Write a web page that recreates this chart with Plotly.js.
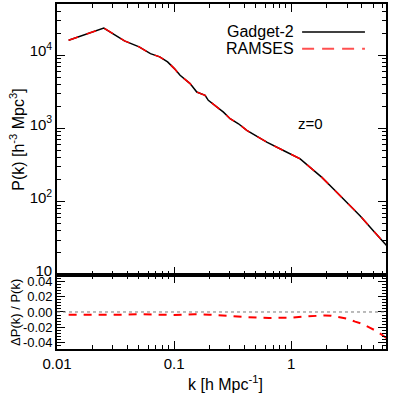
<!DOCTYPE html>
<html>
<head>
<meta charset="utf-8">
<script src="https://cdn.plot.ly/plotly-3.0.1.min.js"></script>
<style>
  html, body { margin: 0; padding: 0; background: #fff; }
  #chart { width: 393px; height: 393px; }
</style>
</head>
<body>
<div id="chart"></div>
<script>
// power spectrum
var kVals = [0.01257, 0.0251, 0.0377, 0.0503, 0.0628, 0.0754, 0.088, 0.1006, 0.1125, 0.137,
             0.1563, 0.1667, 0.184, 0.196, 0.21, 0.232, 0.264, 0.301, 0.355, 0.418,
             0.492, 0.619, 0.859, 1.194, 1.503, 1.83, 2.3, 2.99, 3.89, 5.05, 6.58];
var pGadget = [16000, 23500, 15700, 13000, 10500, 9500, 8100, 6560, 5320, 4090,
               3140, 2985, 2830, 2420, 2220, 1960, 1670, 1360, 1160, 940,
               800, 650, 500, 385, 281, 215, 149, 98, 64, 40, 25];
var pRamses = [16000, 23500, 15700, 13000, 10500, 9500, 8100, 6560, 5320, 4090,
               3140, 2985, 2830, 2420, 2220, 1960, 1670, 1360, 1160, 940,
               800, 650, 500, 385, 281, 215, 149, 98, 64, 40, 25];

// relative difference (lower panel)
var kRatio = [0.01257, 0.0251, 0.0377, 0.0503, 0.0628, 0.0754, 0.1, 0.126, 0.15, 0.2,
              0.25, 0.3, 0.4, 0.5, 0.65, 0.85, 1.0, 1.3, 1.6, 1.95,
              2.2, 2.52, 3.07, 3.52, 4.05, 4.73, 5.43, 6.24, 6.58];
var dRatio = [-0.0035, -0.004, -0.0035, -0.003, -0.0035, -0.003, -0.004, -0.0035, -0.003, -0.0035,
              -0.004, -0.0052, -0.0066, -0.0075, -0.0079, -0.0075, -0.0075, -0.006, -0.005, -0.0045,
              -0.005, -0.0066, -0.0092, -0.0127, -0.0157, -0.021, -0.0258, -0.0324, -0.035];

var xTickVals = [0.01, 0.1, 1];
var xTickText = ['0.01', '0.1', '1'];
var yTickVals = [10, 100, 1000, 10000];
var yTickText = ['10', '10<sup>2</sup>', '10<sup>3</sup>', '10<sup>4</sup>'];

function minorLog(lo, hi) {
  var out = [];
  for (var d = lo; d < hi; d *= 10) {
    for (var m = 2; m <= 9; m++) out.push(m * d);
  }
  return out;
}

var font = { family: 'Liberation Sans, Arial, Helvetica, sans-serif', color: '#000' };

var traces = [
  {
    x: kVals, y: pGadget, xaxis: 'x2', yaxis: 'y',
    type: 'scatter', mode: 'lines',
    line: { color: '#000000', width: 1.5 },
    hoverinfo: 'skip'
  },
  {
    x: kVals, y: pRamses, xaxis: 'x2', yaxis: 'y',
    type: 'scatter', mode: 'lines',
    line: { color: '#ff0000', width: 1.5, dash: '10px,9px' },
    hoverinfo: 'skip'
  },
  {
    x: kRatio, y: dRatio, xaxis: 'x', yaxis: 'y2',
    type: 'scatter', mode: 'lines',
    line: { color: '#ff0000', width: 2, dash: '8px,7px' },
    hoverinfo: 'skip'
  }
];

var split = 0.2145;
var axisCommon = {
  showline: true, linecolor: '#000', linewidth: 1.8, mirror: 'ticks',
  ticks: 'inside', ticklen: 8, tickwidth: 1, tickcolor: '#000',
  showgrid: false, zeroline: false
};

var layout = {
  width: 393, height: 393,
  margin: { l: 57, r: 7, t: 4, b: 44 },
  paper_bgcolor: '#fff', plot_bgcolor: '#fff',
  showlegend: false,
  font: Object.assign({ size: 14 }, font),
  xaxis: Object.assign({}, axisCommon, {
    type: 'log', range: [-2, 0.81], anchor: 'y2', domain: [0, 1],
    tickvals: xTickVals, ticktext: xTickText,
    tickfont: Object.assign({ size: 15 }, font),
    minor: { ticks: 'inside', ticklen: 4, tickcolor: '#000', tickvals: minorLog(0.01, 10) }
  }),
  xaxis2: Object.assign({}, axisCommon, {
    type: 'log', range: [-2, 0.81], anchor: 'y', matches: 'x',
    tickvals: xTickVals, showticklabels: false,
    minor: { ticks: 'inside', ticklen: 4, tickcolor: '#000', tickvals: minorLog(0.01, 10) }
  }),
  yaxis: Object.assign({}, axisCommon, {
    type: 'log', range: [1, Math.log10(50000)], anchor: 'x2', domain: [split, 1],
    tickvals: yTickVals, ticktext: yTickText,
    tickfont: Object.assign({ size: 15 }, font),
    ticklabelshift: -4,
    minor: { ticks: 'inside', ticklen: 4, tickcolor: '#000', tickvals: minorLog(10, 100000) }
  }),
  yaxis2: Object.assign({}, axisCommon, {
    range: [-0.049, 0.049], anchor: 'x', domain: [0, split],
    tickvals: [-0.04, -0.02, 0, 0.02, 0.04],
    ticktext: ['-0.04', '-0.02', '0.00', '0.02', '0.04'],
    tickfont: Object.assign({ size: 13 }, font),
    minor: { ticks: 'inside', ticklen: 4, tickcolor: '#000', dtick: 0.004 }
  }),
  shapes: [
    { type: 'line', xref: 'paper', yref: 'y2', x0: 0, x1: 1, y0: 0, y1: 0,
      line: { color: '#777', width: 1, dash: 'dot' } },
    { type: 'line', xref: 'paper', yref: 'paper', x0: 0.745, x1: 0.936, y0: 0.919, y1: 0.919,
      line: { color: '#000', width: 1.5 } },
    { type: 'line', xref: 'paper', yref: 'paper', x0: 0.745, x1: 0.936, y0: 0.870, y1: 0.870,
      line: { color: '#ff5050', width: 2, dash: '12px,8px' } }
  ],
  annotations: [
    { xref: 'paper', yref: 'paper', x: 0.725, y: 0.919, xanchor: 'right', yanchor: 'middle',
      text: 'Gadget-2', showarrow: false, font: Object.assign({ size: 16 }, font) },
    { xref: 'paper', yref: 'paper', x: 0.725, y: 0.870, xanchor: 'right', yanchor: 'middle',
      text: 'RAMSES', showarrow: false, font: Object.assign({ size: 16 }, font) },
    { xref: 'paper', yref: 'paper', x: 0.769, y: 0.655, xanchor: 'center', yanchor: 'middle',
      text: 'z=0', showarrow: false, font: Object.assign({ size: 15 }, font) },
    // axis titles placed by hand
    { xref: 'paper', yref: 'paper', x: 0.511, y: -0.099, xanchor: 'center', yanchor: 'middle',
      text: 'k [h Mpc<sup>-1</sup>]', showarrow: false, font: Object.assign({ size: 16 }, font) },
    { xref: 'paper', yref: 'paper', x: -0.122, y: 0.606, xanchor: 'center', yanchor: 'middle',
      textangle: -90, text: 'P(k) [h<sup>-3</sup> Mpc<sup>3</sup>]', showarrow: false,
      font: Object.assign({ size: 16 }, font) },
    { xref: 'paper', yref: 'paper', x: -0.128, y: 0.107, xanchor: 'center', yanchor: 'middle',
      textangle: -90, text: 'ΔP(k) / P(k)', showarrow: false, font: Object.assign({ size: 13 }, font) }
  ]
};

Plotly.newPlot('chart', traces, layout, { staticPlot: true, displayModeBar: false });
</script>
</body>
</html>
